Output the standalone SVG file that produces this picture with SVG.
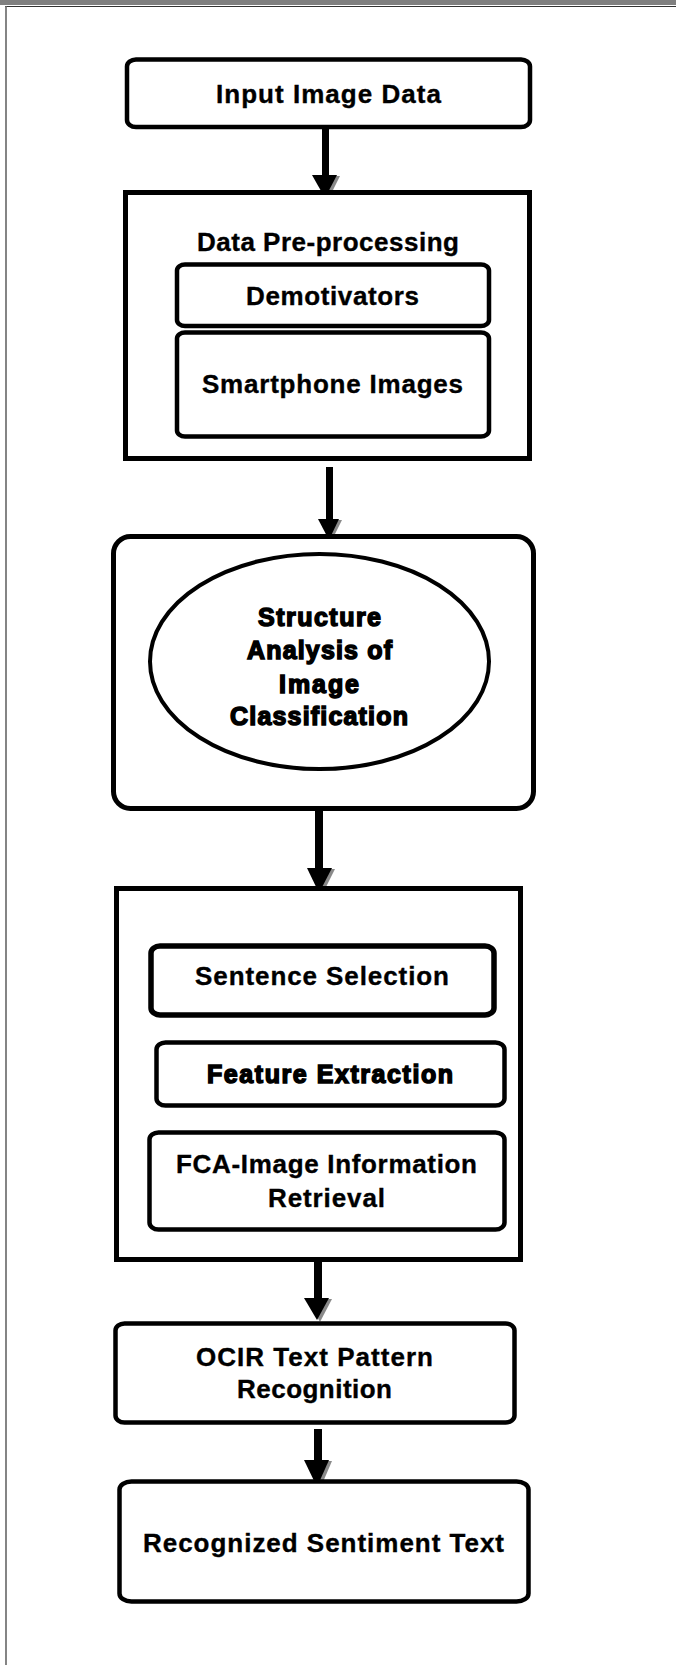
<svg xmlns="http://www.w3.org/2000/svg" width="676" height="1665" viewBox="0 0 676 1665">
<defs>
<style>
.box{fill:#fff;stroke:#000;stroke-width:4.5}
.sq{fill:#fff;stroke:#000;stroke-width:5}
.t{font-family:"Liberation Sans",Arial,sans-serif;font-weight:bold;font-size:26px;fill:#000;stroke:#000;stroke-width:0.35}
.tb{font-family:"Liberation Sans",Arial,sans-serif;font-weight:bold;font-size:25px;fill:#000;stroke:#000;stroke-width:1.5}
.shaft{fill:#000}
.head{fill:#000}
.shadow{fill:#8a8a8a}
</style>
</defs>
<rect x="0" y="0" width="676" height="1665" fill="#fff"/>
<rect x="0" y="0" width="676" height="5" fill="#808080"/>
<line x1="5" y1="6.5" x2="676" y2="6.5" stroke="#333" stroke-width="1.2"/>
<line x1="6" y1="6" x2="6" y2="1665" stroke="#666" stroke-width="1.6"/>

<g id="connectors">
<rect class="shaft" x="322" y="129" width="7" height="47"/>
<polygon class="shadow" points="315,176 340,176 328,200"/>
<polygon class="head" points="312,175 337,175 325,198"/>

<rect class="shaft" x="326" y="467" width="7" height="53"/>
<polygon class="shadow" points="321,520 342,520 331,542"/>
<polygon class="head" points="318,519 339,519 329,540"/>

<rect class="shaft" x="315" y="811" width="8" height="58"/>
<polygon class="shadow" points="310,869 335,869 322,895"/>
<polygon class="head" points="307,868 332,868 319,893"/>

<rect class="shaft" x="314" y="1262" width="8" height="37"/>
<polygon class="shadow" points="307,1299 332,1299 320,1322"/>
<polygon class="head" points="304,1298 329,1298 317,1320"/>

<rect class="shaft" x="314" y="1429" width="8" height="32"/>
<polygon class="shadow" points="307,1461 332,1461 320,1489"/>
<polygon class="head" points="304,1460 329,1460 317,1487"/>
</g>

<g id="input">
<rect class="box" x="127" y="59.5" width="403" height="67.5" rx="9" ry="7"/>
<text class="t" x="216" y="103" textLength="225">Input Image Data</text>
</g>

<g id="preprocessing">
<rect class="sq" x="125.5" y="192.5" width="404" height="266"/>
<text class="t" x="197" y="251" textLength="262">Data Pre-processing</text>
</g>

<g id="demotivators">
<rect class="box" x="177" y="264.5" width="312" height="61.5" rx="8" ry="6"/>
<text class="t" x="246" y="305" textLength="173">Demotivators</text>
</g>

<g id="smartphone">
<rect class="box" x="177" y="332.5" width="312" height="104" rx="8" ry="6"/>
<text class="t" x="202" y="393" textLength="261">Smartphone Images</text>
</g>

<g id="structure">
<rect class="sq" x="113.5" y="536.5" width="420" height="272" rx="17" ry="17"/>
<ellipse cx="319.5" cy="661.5" rx="169.5" ry="107.5" fill="#fff" stroke="#000" stroke-width="4"/>
<text class="tb" x="258" y="626" textLength="123">Structure</text>
<text class="tb" x="247" y="659" textLength="145">Analysis of</text>
<text class="tb" x="279" y="693" textLength="80">Image</text>
<text class="tb" x="230" y="725" textLength="178">Classification</text>
</g>

<g id="processing">
<rect class="sq" x="116.5" y="888.5" width="404" height="371"/>
</g>

<g id="sentence">
<rect class="box" x="151" y="946" width="343" height="69" rx="9" ry="7" style="stroke-width:5.5"/>
<text class="t" x="195" y="985" textLength="254">Sentence Selection</text>
</g>

<g id="feature">
<rect class="box" x="156.5" y="1042.5" width="348" height="63" rx="9" ry="7"/>
<text class="tb" x="207" y="1083" textLength="246">Feature Extraction</text>
</g>

<g id="fca">
<rect class="box" x="149.5" y="1132.5" width="355" height="97" rx="9" ry="7"/>
<text class="t" x="176" y="1173" textLength="301">FCA-Image Information</text>
<text class="t" x="268" y="1207" textLength="117">Retrieval</text>
</g>

<g id="ocir">
<rect class="box" x="115.5" y="1323.5" width="399" height="99" rx="9" ry="7"/>
<text class="t" x="196" y="1366" textLength="237">OCIR Text Pattern</text>
<text class="t" x="237" y="1398" textLength="155">Recognition</text>
</g>

<g id="recognized">
<rect class="box" x="119.5" y="1481.5" width="409" height="120" rx="12" ry="8"/>
<text class="t" x="143" y="1552" textLength="361">Recognized Sentiment Text</text>
</g>
</svg>
